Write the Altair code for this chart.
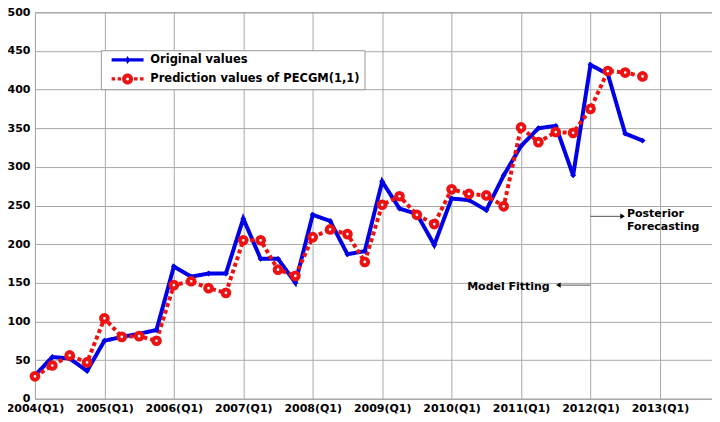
import altair as alt
import pandas as pd

# ---------------- data ----------------
quarters = list(range(1, 37))  # 1 = 2004(Q1) ... 36 = 2012(Q4)
original = [30, 54, 52, 36,
            75, 80, 84, 89,
            171, 158, 162, 162,
            233, 181, 181, 150,
            238, 230, 187, 191,
            281, 246, 239, 199,
            259, 257, 244, 289,
            327, 350, 353, 289,
            432, 420, 343, 334]
prediction = [29, 43, 56, 47,
              104, 80, 81, 75,
              147, 152, 143, 137,
              205, 205, 167, 159,
              209, 219, 213, 177,
              251, 262, 238, 226,
              271, 265, 263, 249,
              351, 332, 345, 344,
              375, 424, 422, 417]
series_names = ["Original values", "Prediction values of PECGM(1,1)"]
tick_values = [1, 5, 9, 13, 17, 21, 25, 29, 33, 37]
tick_labels = ["2004(Q1)", "2005(Q1)", "2006(Q1)", "2007(Q1)", "2008(Q1)",
               "2009(Q1)", "2010(Q1)", "2011(Q1)", "2012(Q1)", "2013(Q1)"]
y_ticks = [0, 50, 100, 150, 200, 250, 300, 350, 400, 450, 500]

# annotations
right_text = ["Posterior", "Forecasting"]
right_x = [35.1, 35.1]
right_y = [239, 222]
left_text = ["Model Fitting"]
left_x = [30.65]
left_y = [144]
arrow_x = [33.0, 31.3]
arrow_x2 = [34.85, 33.0]
arrow_y = [236, 147]
head_x = [34.85, 31.15]
head_y = [236, 147]
head_shape = ["triangle-right", "triangle-left"]

BLUE = "#0000E8"
RED = "#EE1111"
FONT = "DejaVu Sans"

df = pd.DataFrame({
    "q": quarters * 2,
    "value": original + prediction,
    "series": [series_names[0]] * len(original) + [series_names[1]] * len(prediction),
})
df_rt = pd.DataFrame({"q": right_x, "value": right_y, "t": right_text})
df_lt = pd.DataFrame({"q": left_x, "value": left_y, "t": left_text})
df_arrow = pd.DataFrame({"q": arrow_x, "q2": arrow_x2, "value": arrow_y})
df_head = pd.DataFrame({"q": head_x, "value": head_y, "s": head_shape})

label_expr = "[" + ",".join("'%s'" % t for t in tick_labels) + "][(datum.value - 1) / 4]"

# legend symbol glyphs (line + marker), in pixels relative to symbol centre
blue_glyph = "M1,-1.6H33V1.6H1Z M17,-4L19.5,0L17,4L14.5,0Z"
red_glyph = ("M1,-1.6H4.5V1.6H1Z M7,-1.6H10.5V1.6H7Z "
             "M23.5,-1.6H27V1.6H23.5Z M29.5,-1.6H33V1.6H29.5Z "
             "M22.5,0A5.5,5.5 0 1,0 11.5,0A5.5,5.5 0 1,0 22.5,0Z "
             "M18.5,0A1.5,1.5 0 1,1 15.5,0A1.5,1.5 0 1,1 18.5,0Z")
first = series_names[0]

legend = alt.Legend(
    title=None,
    symbolType={"expr": "datum.value === '%s' ? '%s' : '%s'" % (first, blue_glyph, red_glyph)},
    symbolFillColor={"expr": "datum.value === '%s' ? '%s' : '%s'" % (first, BLUE, RED)},
    symbolStrokeWidth=0,
    symbolOpacity=1,
)

xscale = alt.Scale(domain=[1, 40], nice=False, zero=False)
yscale = alt.Scale(domain=[0, 500], nice=False)

x_axis = alt.Axis(values=tick_values, labelExpr=label_expr, title=None, ticks=False,
                  labelPadding=4, domain=False, labelOverlap=False, labelFlush=False)
y_axis = alt.Axis(values=y_ticks, title=None, ticks=False, labelPadding=5,
                  domain=False, labelOverlap=False, labelFlush=False)
x_enc = alt.X("q:Q", scale=xscale, axis=x_axis)
y_enc = alt.Y("value:Q", scale=yscale, axis=y_axis)

lines = alt.Chart(df).mark_line(strokeWidth=4).encode(
    x=x_enc, y=y_enc,
    color=alt.Color("series:N", scale=alt.Scale(domain=series_names, range=[BLUE, RED]),
                    legend=legend),
    strokeDash=alt.StrokeDash("series:N", scale=alt.Scale(domain=series_names, range=[[1, 0], [4, 3]]),
                              legend=None),
)

blue_pts = alt.Chart(df[df.series == series_names[0]]).mark_point(
    shape="diamond", filled=True, size=35, color=BLUE, opacity=1
).encode(x=x_enc, y=y_enc)

red_pts = alt.Chart(df[df.series == series_names[1]]).mark_point(
    shape="circle", filled=False, fill="white", fillOpacity=1, stroke=RED,
    strokeWidth=4, size=45, opacity=1
).encode(x=x_enc, y=y_enc)

arrows = alt.Chart(df_arrow).mark_rule(color="#555", strokeWidth=1).encode(
    x=x_enc, x2="q2:Q", y=y_enc)
heads = alt.Chart(df_head).mark_point(filled=True, color="black", size=30, opacity=1).encode(
    x=x_enc, y=y_enc, shape=alt.Shape("s:N", scale=None))
texts_r = alt.Chart(df_rt).mark_text(fontSize=11, fontWeight="bold", font=FONT,
                                     color="black", baseline="middle", align="left").encode(
    x=x_enc, y=y_enc, text="t:N")
texts_l = alt.Chart(df_lt).mark_text(fontSize=11, fontWeight="bold", font=FONT,
                                     color="black", baseline="middle", align="right").encode(
    x=x_enc, y=y_enc, text="t:N")

chart = alt.layer(lines, blue_pts, red_pts, arrows, heads, texts_r, texts_l).properties(
    width=678, height=387,
    autosize=alt.AutoSizeParams(type="none"),
    padding={"left": 27, "top": 4, "right": 0, "bottom": 20},
).configure_view(
    stroke="#888", strokeWidth=1
).configure_axis(
    labelFont=FONT, labelFontSize=11, labelFontWeight="bold", labelColor="black",
    gridColor="#a8a8a8", gridWidth=1, gridOpacity=1
).configure_legend(
    orient="none", legendX=66, legendY=38, fillColor="white", strokeColor="#999",
    padding=4, symbolSize=4, labelOffset=34, labelLimit=400,
    labelFont=FONT, labelFontSize=11.5, labelFontWeight="bold", labelColor="black",
    rowPadding=6
)

chart.save("out.html", embed_options={"renderer": "svg", "actions": False})
